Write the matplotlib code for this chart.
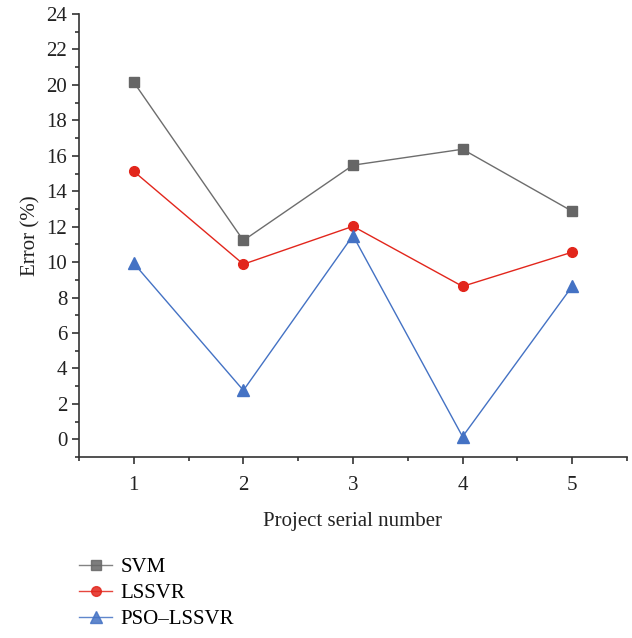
import matplotlib
matplotlib.use("Agg")
import matplotlib.pyplot as plt
from matplotlib.ticker import MultipleLocator

plt.rcParams['font.family'] = ['Liberation Serif', 'DejaVu Serif']

projects = [1, 2, 3, 4, 5]
svm = [20.15, 11.22, 15.47, 16.37, 12.87]
lssvr = [15.12, 9.88, 12.02, 8.63, 10.56]
pso_lssvr = [9.93, 2.76, 11.5, 0.15, 8.63]

fig = plt.figure(figsize=(6.32, 6.38), dpi=100)
ax = fig.add_axes([0.125, 0.2837, 0.867, 0.6943])

ax.plot(projects, svm, color='#6d6d6d', lw=1.0, marker='s', ms=7, mfc='#666666', mec='#666666', label='SVM')
ax.plot(projects, lssvr, color='#e2261c', lw=1.0, marker='o', ms=7, mfc='#e2261c', mec='#e2261c', label='LSSVR')
ax.plot(projects, pso_lssvr, color='#4472c4', lw=1.0, marker='^', ms=8, mfc='#4472c4', mec='#4472c4', label='PSO\u2013LSSVR')

ax.set_xlim(0.5, 5.5)
ax.set_ylim(-1, 24)
ax.xaxis.set_major_locator(MultipleLocator(1))
ax.xaxis.set_minor_locator(MultipleLocator(0.5))
ax.yaxis.set_major_locator(MultipleLocator(2))
ax.yaxis.set_minor_locator(MultipleLocator(1))
ax.spines['top'].set_visible(False)
ax.spines['right'].set_visible(False)
for s in ['left', 'bottom']:
    ax.spines[s].set_color('#333333')
    ax.spines[s].set_linewidth(1.2)
ax.tick_params(which='both', direction='out', color='#333333', width=1.2, labelsize=15, labelcolor='#222222')
ax.tick_params(which='major', length=5)
ax.tick_params(which='minor', length=3)
ax.tick_params(axis='x', pad=9)

ax.set_xlabel('Project serial number', fontsize=15, color='#222222', labelpad=12)
ax.set_ylabel('Error (%)', fontsize=15, color='#222222', labelpad=4)

leg = fig.legend(loc='upper left', bbox_to_anchor=(0.112, 0.139), frameon=False, fontsize=15,
                 handlelength=1.6, handletextpad=0.4, labelspacing=0.3, borderaxespad=0)
for line in leg.get_lines():
    line.set_alpha(0.85)

fig.savefig('out.png', dpi=100)
